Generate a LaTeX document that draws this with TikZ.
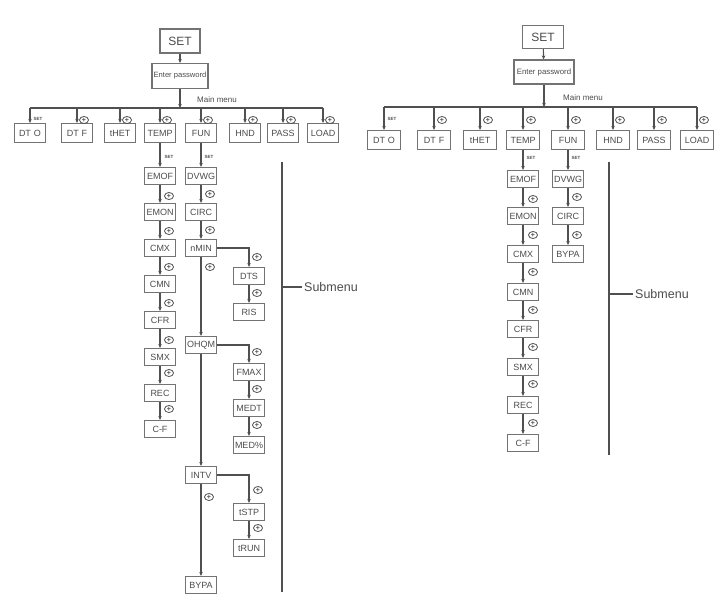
\documentclass[tikz,border=0pt]{standalone}
\usepackage{fontspec}
\setmainfont{Liberation Sans}
\usetikzlibrary{arrows.meta,positioning,calc,shapes.geometric}
\definecolor{boxgray}{RGB}{115,115,115}
\definecolor{txtgray}{RGB}{75,75,75}
\definecolor{linegray}{RGB}{80,80,80}

\begin{document}
\begin{tikzpicture}[x=1pt, y=-1pt, >={Stealth[length=4pt,width=3.5pt]},
    mbox/.style={draw=boxgray, line width=1.1pt, text=txtgray, minimum width=31pt, minimum height=19pt, inner sep=1.5pt, font=\fontsize{9}{10}\selectfont},
    sbox/.style={mbox, minimum height=17pt},
    wide/.style={minimum width=33pt},
    conn/.style={draw=linegray, line width=1.1pt},
    pk/.style={draw=linegray, line width=0.8pt, ellipse, minimum width=9pt, minimum height=7pt, inner sep=0pt, text=linegray, font=\fontsize{7}{7}\selectfont\bfseries},
    setlbl/.style={inner sep=0pt, text=linegray, font=\fontsize{4.5}{5}\selectfont\bfseries},
    menulbl/.style={inner sep=0pt, text=txtgray, font=\fontsize{8}{9}\selectfont},
    subtxt/.style={inner sep=0pt, text=txtgray, font=\fontsize{12.5}{14}\selectfont}]
    \useasboundingbox (0,0) rectangle (728,600);

    % Left chart: top
    \node[mbox, minimum width=40pt, minimum height=24pt, font=\fontsize{12}{13}\selectfont] (set1) at (180,41) {SET};
    \node[mbox, minimum width=56pt, minimum height=25pt, inner sep=1pt, font=\fontsize{7.6}{8}\selectfont] (pw1) at (180,76) {Enter password};
    \coordinate (bus1) at (180,108);
    \node[menulbl] (mm1) at (217,100) {Main menu};
    \draw[conn, ->] (set1) -- (pw1);
    \draw[conn, ->] (pw1) -- (bus1);

    % Left chart: main menu
    \node[mbox] (dto1) at (30,133) {DT\,\,O};
    \node[mbox] (dtf1) at (77,133) {DT\,\,F};
    \node[mbox] (thet1) at (120,133) {tHET};
    \node[mbox] (temp1) at (160,133) {TEMP};
    \node[mbox] (fun1) at (201,133) {FUN};
    \node[mbox] (hnd1) at (245,133) {HND};
    \node[mbox] (pass1) at (283,133) {PASS};
    \node[mbox] (load1) at (323,133) {LOAD};
    \draw[conn] (dto1.north |- bus1) -- (load1.north |- bus1);
    \draw[conn, ->] (dto1.north |- bus1) -- (dto1.north);
    \draw[conn, ->] (dtf1.north |- bus1) -- (dtf1.north);
    \draw[conn, ->] (thet1.north |- bus1) -- (thet1.north);
    \draw[conn, ->] (temp1.north |- bus1) -- (temp1.north);
    \draw[conn, ->] (fun1.north |- bus1) -- (fun1.north);
    \draw[conn, ->] (hnd1.north |- bus1) -- (hnd1.north);
    \draw[conn, ->] (pass1.north |- bus1) -- (pass1.north);
    \draw[conn, ->] (load1.north |- bus1) -- (load1.north);
    \node[setlbl] (s1a) at (38,119) {SET};
    \node[pk] (p1a) at (84,120) {+};
    \node[pk] (p1b) at (127,120) {+};
    \node[pk] (p1c) at (167,120) {+};
    \node[pk] (p1d) at (208,120) {+};
    \node[pk] (p1e) at (253,120) {+};
    \node[pk] (p1f) at (291,120) {+};
    \node[pk] (p1g) at (330,120) {+};

    % Left chart: TEMP submenu
    \node[sbox] (emof1) at (160,176) {EMOF};
    \node[sbox] (emon1) at (160,212) {EMON};
    \node[sbox] (cmx1) at (160,248) {CMX};
    \node[sbox] (cmn1) at (160,284) {CMN};
    \node[sbox] (cfr1) at (160,320) {CFR};
    \node[sbox] (smx1) at (160,357) {SMX};
    \node[sbox] (rec1) at (160,393) {REC};
    \node[sbox] (cf1) at (160,429) {C-F};
    \draw[conn, ->] (temp1) -- (emof1);
    \draw[conn, ->] (emof1) -- (emon1);
    \draw[conn, ->] (emon1) -- (cmx1);
    \draw[conn, ->] (cmx1) -- (cmn1);
    \draw[conn, ->] (cmn1) -- (cfr1);
    \draw[conn, ->] (cfr1) -- (smx1);
    \draw[conn, ->] (smx1) -- (rec1);
    \draw[conn, ->] (rec1) -- (cf1);
    \node[setlbl] (s1b) at (169,157) {SET};
    \node[pk] (p1h) at (169,196) {+};
    \node[pk] (p1i) at (169,231) {+};
    \node[pk] (p1j) at (169,267) {+};
    \node[pk] (p1k) at (169,303) {+};
    \node[pk] (p1l) at (169,340) {+};
    \node[pk] (p1m) at (169,373) {+};
    \node[pk] (p1n) at (169,409) {+};

    % Left chart: FUN submenu
    \node[sbox] (dvwg1) at (201,176) {DVWG};
    \node[sbox] (circ1) at (201,212) {CIRC};
    \node[sbox] (nmin1) at (201,248) {nMIN};
    \node[sbox] (dts1) at (249,276) {DTS};
    \node[sbox] (ris1) at (249,312) {RIS};
    \node[sbox] (ohqm1) at (201,345) {OHQM};
    \node[sbox] (fmax1) at (249,372) {FMAX};
    \node[sbox] (medt1) at (249,408) {MEDT};
    \node[sbox] (medp1) at (249,445) {MED\%};
    \node[sbox] (intv1) at (201,475) {INTV};
    \node[sbox] (tstp1) at (249,512) {tSTP};
    \node[sbox] (trun1) at (249,548) {tRUN};
    \node[sbox] (bypa1) at (201,585) {BYPA};
    \draw[conn, ->] (fun1) -- (dvwg1);
    \draw[conn, ->] (dvwg1) -- (circ1);
    \draw[conn, ->] (circ1) -- (nmin1);
    \draw[conn, ->] (nmin1.east) -| (dts1.north);
    \draw[conn, ->] (dts1) -- (ris1);
    \draw[conn, ->] (nmin1) -- (ohqm1);
    \draw[conn, ->] (ohqm1.east) -| (fmax1.north);
    \draw[conn, ->] (fmax1) -- (medt1);
    \draw[conn, ->] (medt1) -- (medp1);
    \draw[conn, ->] (ohqm1) -- (intv1);
    \draw[conn, ->] (intv1.east) -| (tstp1.north);
    \draw[conn, ->] (tstp1) -- (trun1);
    \draw[conn, ->] (intv1) -- (bypa1);
    \node[setlbl] (s1c) at (209,157) {SET};
    \node[pk] (p1o) at (210,194) {+};
    \node[pk] (p1p) at (210,230) {+};
    \node[pk] (p1q) at (210,267) {+};
    \node[pk] (p1r) at (257,257) {+};
    \node[pk] (p1s) at (257,293) {+};
    \node[pk] (p1t) at (257,352) {+};
    \node[pk] (p1u) at (257,389) {+};
    \node[pk] (p1v) at (257,425) {+};
    \node[pk] (p1w) at (258,490) {+};
    \node[pk] (p1x) at (258,528) {+};
    \node[pk] (p1y) at (209,497) {+};

    % Left chart: submenu bracket
    \coordinate (sm1t) at (282,162);
    \coordinate (sm1b) at (282,592);
    \node[subtxt, anchor=west] (sm1) at (304,287) {Submenu};
    \draw[conn] (sm1t) -- (sm1b);
    \draw[conn] (sm1.west -| sm1t) -- ([xshift=-2pt]sm1.west);

    % Right chart: top
    \node[mbox, minimum width=41pt, minimum height=23pt, font=\fontsize{12}{13}\selectfont] (set2) at (543,37) {SET};
    \node[mbox, minimum width=60pt, minimum height=24pt, inner sep=1pt, font=\fontsize{7.8}{8}\selectfont] (pw2) at (544,72) {Enter password};
    \coordinate (bus2) at (544,107);
    \node[menulbl] (mm2) at (583,98) {Main menu};
    \draw[conn, ->] (set2) -- (pw2);
    \draw[conn, ->] (pw2) -- (bus2);

    % Right chart: main menu
    \node[mbox, wide] (dto2) at (384,140) {DT\,\,O};
    \node[mbox, wide] (dtf2) at (434,140) {DT\,\,F};
    \node[mbox, wide] (thet2) at (480,140) {tHET};
    \node[mbox, wide] (temp2) at (523,140) {TEMP};
    \node[mbox, wide] (fun2) at (568,140) {FUN};
    \node[mbox, wide] (hnd2) at (613,140) {HND};
    \node[mbox, wide] (pass2) at (654,140) {PASS};
    \node[mbox, wide] (load2) at (697,140) {LOAD};
    \draw[conn] (dto2.north |- bus2) -- (load2.north |- bus2);
    \draw[conn, ->] (dto2.north |- bus2) -- (dto2.north);
    \draw[conn, ->] (dtf2.north |- bus2) -- (dtf2.north);
    \draw[conn, ->] (thet2.north |- bus2) -- (thet2.north);
    \draw[conn, ->] (temp2.north |- bus2) -- (temp2.north);
    \draw[conn, ->] (fun2.north |- bus2) -- (fun2.north);
    \draw[conn, ->] (hnd2.north |- bus2) -- (hnd2.north);
    \draw[conn, ->] (pass2.north |- bus2) -- (pass2.north);
    \draw[conn, ->] (load2.north |- bus2) -- (load2.north);
    \node[setlbl] (s2a) at (392,119) {SET};
    \node[pk] (p2a) at (442,120) {+};
    \node[pk] (p2b) at (488,120) {+};
    \node[pk] (p2c) at (531,120) {+};
    \node[pk] (p2d) at (576,120) {+};
    \node[pk] (p2e) at (620,120) {+};
    \node[pk] (p2f) at (662,120) {+};
    \node[pk] (p2g) at (704,120) {+};

    % Right chart: TEMP submenu
    \node[sbox] (emof2) at (523,179) {EMOF};
    \node[sbox] (emon2) at (523,216) {EMON};
    \node[sbox] (cmx2) at (523,254) {CMX};
    \node[sbox] (cmn2) at (523,292) {CMN};
    \node[sbox] (cfr2) at (523,329) {CFR};
    \node[sbox] (smx2) at (523,367) {SMX};
    \node[sbox] (rec2) at (523,405) {REC};
    \node[sbox] (cf2) at (523,443) {C-F};
    \draw[conn, ->] (temp2) -- (emof2);
    \draw[conn, ->] (emof2) -- (emon2);
    \draw[conn, ->] (emon2) -- (cmx2);
    \draw[conn, ->] (cmx2) -- (cmn2);
    \draw[conn, ->] (cmn2) -- (cfr2);
    \draw[conn, ->] (cfr2) -- (smx2);
    \draw[conn, ->] (smx2) -- (rec2);
    \draw[conn, ->] (rec2) -- (cf2);
    \node[setlbl] (s2b) at (531,158) {SET};
    \node[pk] (p2h) at (533,199) {+};
    \node[pk] (p2i) at (533,235) {+};
    \node[pk] (p2j) at (533,272) {+};
    \node[pk] (p2k) at (533,310) {+};
    \node[pk] (p2l) at (533,347) {+};
    \node[pk] (p2m) at (533,384) {+};
    \node[pk] (p2n) at (533,423) {+};

    % Right chart: FUN submenu
    \node[sbox] (dvwg2) at (568,179) {DVWG};
    \node[sbox] (circ2) at (568,216) {CIRC};
    \node[sbox] (bypa2) at (568,254) {BYPA};
    \draw[conn, ->] (fun2) -- (dvwg2);
    \draw[conn, ->] (dvwg2) -- (circ2);
    \draw[conn, ->] (circ2) -- (bypa2);
    \node[setlbl] (s2c) at (576,158) {SET};
    \node[pk] (p2o) at (577,197) {+};
    \node[pk] (p2p) at (577,235) {+};

    % Right chart: submenu bracket
    \coordinate (sm2t) at (609,162);
    \coordinate (sm2b) at (609,455);
    \node[subtxt, anchor=west] (sm2) at (635,294) {Submenu};
    \draw[conn] (sm2t) -- (sm2b);
    \draw[conn] (sm2.west -| sm2t) -- ([xshift=-2pt]sm2.west);
\end{tikzpicture}
\end{document}
